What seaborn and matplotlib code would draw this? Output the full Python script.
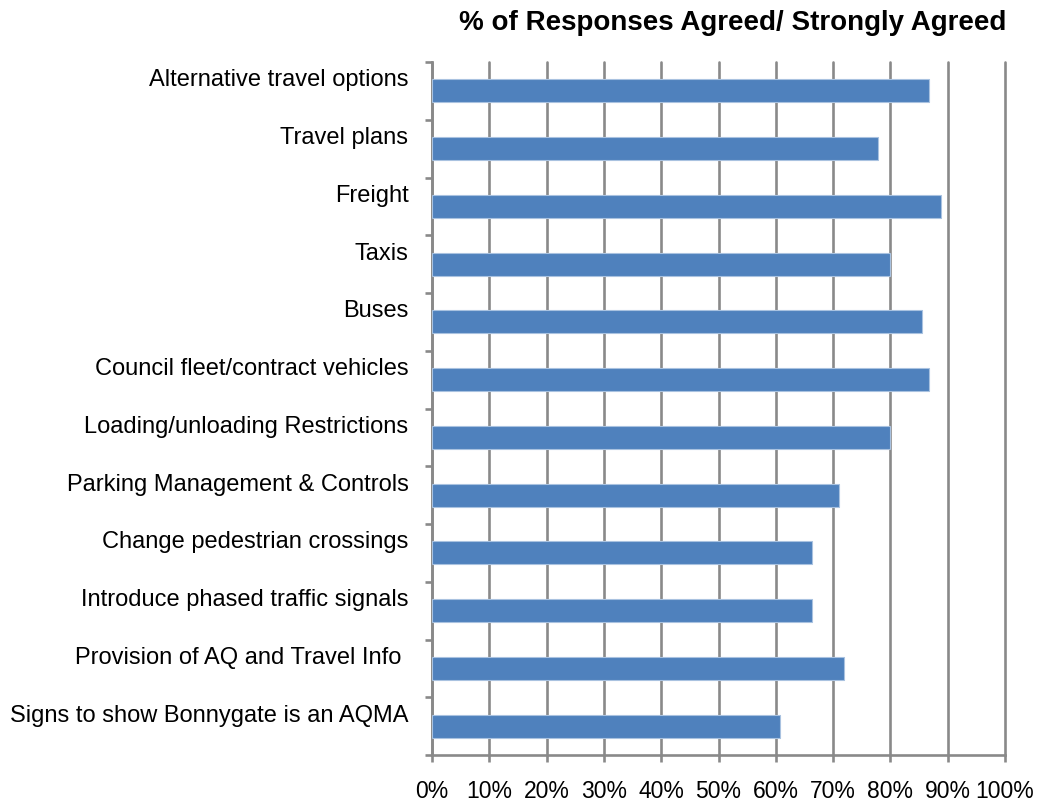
import matplotlib
matplotlib.use("Agg")
import matplotlib.pyplot as plt
from matplotlib.transforms import ScaledTranslation
from matplotlib.ticker import FixedLocator, FuncFormatter
import seaborn as sns
import pandas as pd
import numpy as np

categories = [
    "Alternative travel options",
    "Travel plans",
    "Freight",
    "Taxis",
    "Buses",
    "Council fleet/contract vehicles",
    "Loading/unloading Restrictions",
    "Parking Management & Controls",
    "Change pedestrian crossings",
    "Introduce phased traffic signals",
    "Provision of AQ and Travel Info ",
    "Signs to show Bonnygate is an AQMA",
]
agreed_pct = [86.8, 77.8, 88.9, 79.9, 85.5, 86.8, 79.9, 71.0, 66.3, 66.3, 71.9, 60.7]
x_ticks = list(range(0, 101, 10))

title = "% of Responses Agreed/ Strongly Agreed"

sns.set_theme(style="white")
plt.rcParams['font.family'] = ['Liberation Sans', 'DejaVu Sans']

grey = "#898989"
bar_blue = "#4F81BD"

df = pd.DataFrame({"category": categories, "pct": agreed_pct})

fig = plt.figure(figsize=(10.39, 8.05), dpi=100)
ax = fig.add_axes([0.4158, 0.062, 0.5515, 0.861])

ax.set_xlim(0, 100)
ax.xaxis.set_major_locator(FixedLocator(x_ticks))
ax.grid(axis="x", color=grey, linewidth=1.9, zorder=0)
ax.set_axisbelow(True)

sns.barplot(data=df, x="pct", y="category", orient="h", color=bar_blue,
            width=0.4, saturation=1, edgecolor="#A9C2E0", linewidth=0.8,
            ax=ax, zorder=3)

ax.set_ylim(len(categories) - 0.5, -0.5)
ax.set_xlabel("")
ax.set_ylabel("")

for side in ["top", "right"]:
    ax.spines[side].set_visible(False)
for side in ["left", "bottom"]:
    ax.spines[side].set_color(grey)
    ax.spines[side].set_linewidth(1.9)

ax.xaxis.set_major_formatter(FuncFormatter(lambda v, p: f"{int(v)}%"))
ax.tick_params(axis="x", which="major", direction="out", length=5, width=1.9,
               color=grey, pad=13, labelsize=16.5, labelcolor="black", bottom=True)

ax.yaxis.set_minor_locator(FixedLocator(np.arange(-0.5, len(categories), 1.0)))
ax.tick_params(axis="y", which="minor", direction="out", length=5, width=1.9,
               color=grey, left=True)
ax.tick_params(axis="y", which="major", length=0, pad=17, labelsize=17,
               labelcolor="black")

for line in ax.get_xgridlines():
    line.set_clip_on(False)

# category labels sit a bit above the bar centres
offset = ScaledTranslation(0, 13 / 100, fig.dpi_scale_trans)
for lbl in ax.get_yticklabels():
    lbl.set_transform(lbl.get_transform() + offset)

fig.text(0.705, 0.972, title, ha="center", va="center", fontsize=20,
         fontweight="bold", color="black")

fig.savefig("out.png", dpi=100)
